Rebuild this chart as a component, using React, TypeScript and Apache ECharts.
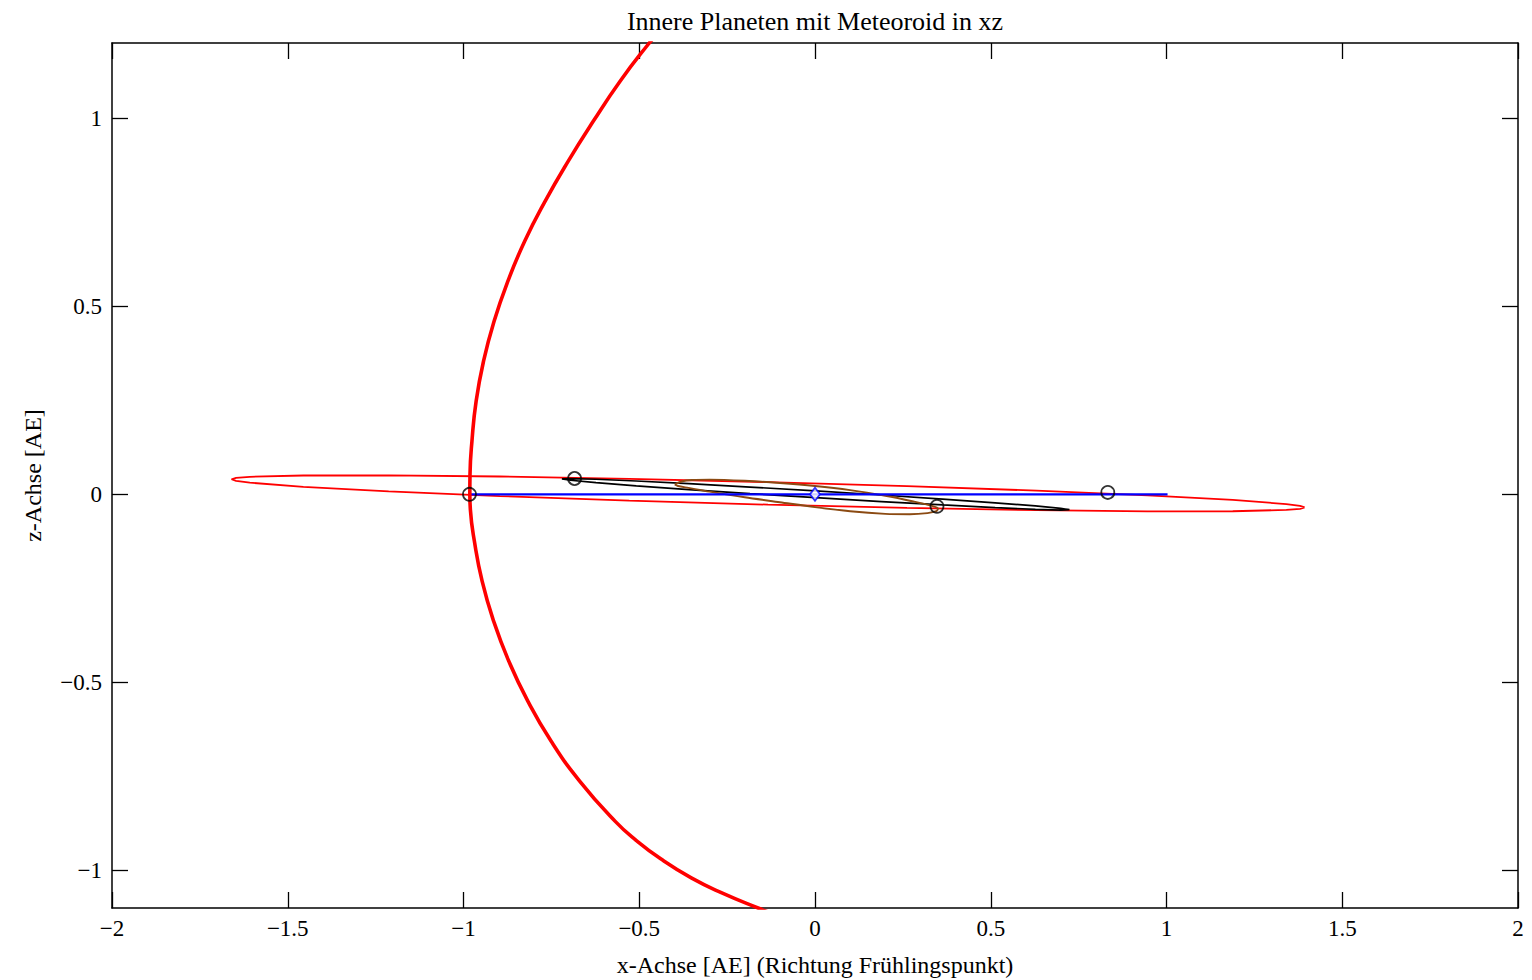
import { useEffect, useRef } from "react";
import * as echarts from "echarts";

// Axis ticks (AE)
const xTicks = [-2, -1.5, -1, -0.5, 0, 0.5, 1, 1.5, 2];
const zTicks = [-1, -0.5, 0, 0.5, 1];

// Meteoroid trajectory projected onto the xz plane [x, z]
const meteoroidPath: number[][] = [
  [-0.452, 1.22], [-0.475, 1.196], [-0.554, 1.099], [-0.63, 0.993], [-0.702, 0.886],
  [-0.768, 0.779], [-0.826, 0.673], [-0.874, 0.566], [-0.913, 0.46], [-0.943, 0.354],
  [-0.964, 0.248], [-0.976, 0.141], [-0.9815, 0.053], [-0.982, 0.0], [-0.9805, -0.04],
  [-0.969, -0.125], [-0.947, -0.231], [-0.914, -0.338], [-0.871, -0.444], [-0.817, -0.55],
  [-0.751, -0.656], [-0.669, -0.763], [-0.569, -0.869], [-0.509, -0.92], [-0.438, -0.97],
  [-0.352, -1.02], [-0.265, -1.06], [-0.162, -1.1], [-0.106, -1.12],
];

// Mars orbit
const marsOrbit: number[][] = [
  [1.393, -0.035], [1.38, -0.0308], [1.341, -0.0259], [1.1885, -0.015], [0.946, -0.0028],
  [0.63, 0.0097], [0.2616, 0.0218], [-0.1335, 0.0325], [-0.5286, 0.0412], [-0.8968, 0.0473],
  [-1.2129, 0.0502], [-1.4555, 0.05], [-1.608, 0.0465], [-1.647, 0.0436], [-1.66, 0.04],
  [-1.647, 0.0358], [-1.608, 0.0309], [-1.4555, 0.02], [-1.2129, 0.0078], [-0.8968, -0.0047],
  [-0.5286, -0.0168], [-0.1335, -0.0275], [0.2616, -0.0362], [0.63, -0.0423], [0.946, -0.0452],
  [1.1885, -0.045], [1.341, -0.0415], [1.38, -0.0386], [1.393, -0.035],
];

// Venus orbit
const venusOrbit: number[][] = [
  [0.724, -0.041], [0.699, -0.0373], [0.627, -0.031], [0.5125, -0.0226], [0.363, -0.0127],
  [0.189, -0.0019], [0.002, 0.009], [-0.1849, 0.0193], [-0.359, 0.0283], [-0.5085, 0.0354],
  [-0.623, 0.04], [-0.6954, 0.0419], [-0.72, 0.041], [-0.6954, 0.0373], [-0.623, 0.031],
  [-0.5085, 0.0226], [-0.359, 0.0127], [-0.1849, 0.0019], [0.002, -0.009], [0.189, -0.0193],
  [0.363, -0.0283], [0.5125, -0.0354], [0.627, -0.04], [0.699, -0.0419], [0.724, -0.041],
];

// Mercury orbit
const mercuryOrbit: number[][] = [
  [-0.399, 0.026], [-0.38, 0.034], [-0.35, 0.038], [-0.3, 0.039], [-0.2, 0.036],
  [-0.1, 0.03], [0.0, 0.022], [0.1, 0.011], [0.2, -0.004], [0.28, -0.019],
  [0.33, -0.03], [0.35, -0.038], [0.345, -0.045], [0.32, -0.05], [0.27, -0.053],
  [0.2, -0.052], [0.1, -0.045], [0.0, -0.034], [-0.1, -0.021], [-0.2, -0.008],
  [-0.3, 0.007], [-0.36, 0.017], [-0.39, 0.022], [-0.399, 0.026],
];

// Earth orbit (lies in the ecliptic, seen edge-on)
const earthOrbit: number[][] = [[-0.985, 0], [1.003, 0]];

// Current planet positions: Earth, Venus, Mercury, Mars
const planetPositions: number[][] = [[-0.983, 0], [-0.684, 0.042], [0.347, -0.032], [0.833, 0.005]];

// Sun
const sunPosition: number[][] = [[0, 0]];

const FONT = "'Liberation Serif', 'Times New Roman', serif";

const fmt = (v: number) => (v < 0 ? "\u2212" + String(-v) : String(v));

export default function App() {
  const ref = useRef<HTMLDivElement>(null);

  useEffect(() => {
    if (!ref.current) return;
    const chart = echarts.init(ref.current, undefined, { renderer: "svg" });

    const axisLine = { show: true, onZero: false, lineStyle: { color: "#000", width: 1.5 } };
    const tick = { inside: true, length: 16, lineStyle: { color: "#000", width: 1.3 } };
    const label = { color: "#000", fontFamily: FONT, fontSize: 23, formatter: fmt };

    chart.setOption({
      animation: false,
      backgroundColor: "#fff",
      grid: { left: 112, top: 43, width: 1406, height: 865, show: false, outerBoundsMode: "none" },
      graphic: [
        {
          type: "text",
          x: 815,
          y: 21,
          style: {
            text: "Innere Planeten mit Meteoroid in xz",
            font: `26px ${FONT}`,
            fill: "#000",
            align: "center",
            verticalAlign: "middle",
          },
        },
      ],
      xAxis: [
        {
          type: "value",
          min: xTicks[0],
          max: xTicks[xTicks.length - 1],
          interval: 0.5,
          position: "bottom",
          axisLine,
          axisTick: tick,
          axisLabel: { ...label, margin: 9 },
          splitLine: { show: false },
          name: "x-Achse [AE] (Richtung Frühlingspunkt)",
          nameLocation: "middle",
          nameGap: 45,
          nameTextStyle: { color: "#000", fontFamily: FONT, fontSize: 24 },
        },
        {
          type: "value",
          min: xTicks[0],
          max: xTicks[xTicks.length - 1],
          interval: 0.5,
          position: "top",
          axisLine,
          axisTick: tick,
          axisLabel: { show: false },
          splitLine: { show: false },
        },
      ],
      yAxis: [
        {
          type: "value",
          min: -1.1,
          max: 1.2,
          position: "left",
          axisLine,
          axisTick: { ...tick, customValues: zTicks },
          axisLabel: { ...label, margin: 10, customValues: zTicks },
          splitLine: { show: false },
          name: "z-Achse [AE]",
          nameLocation: "middle",
          nameGap: 67,
          nameTextStyle: { color: "#000", fontFamily: FONT, fontSize: 24 },
        },
        {
          type: "value",
          min: -1.1,
          max: 1.2,
          position: "right",
          axisLine,
          axisTick: { ...tick, customValues: zTicks },
          axisLabel: { show: false, customValues: zTicks },
          splitLine: { show: false },
        },
      ],
      series: [
        {
          name: "Mars",
          type: "line",
          data: marsOrbit,
          showSymbol: false,
          lineStyle: { color: "#ff0000", width: 1.8 },
          z: 2,
        },
        {
          name: "Venus",
          type: "line",
          data: venusOrbit,
          showSymbol: false,
          lineStyle: { color: "#000000", width: 1.7 },
          z: 3,
        },
        {
          name: "Merkur",
          type: "line",
          data: mercuryOrbit,
          showSymbol: false,
          smooth: 0.3,
          lineStyle: { color: "#8b4a12", width: 1.9 },
          z: 3,
        },
        {
          name: "Erde",
          type: "line",
          data: earthOrbit,
          showSymbol: false,
          lineStyle: { color: "#0000ff", width: 2.2 },
          z: 4,
        },
        {
          name: "Meteoroid",
          type: "line",
          data: meteoroidPath,
          showSymbol: false,
          smooth: 0.5,
          clip: true,
          lineStyle: { color: "#ff0000", width: 3.6 },
          z: 5,
        },
        {
          name: "Planeten",
          type: "scatter",
          data: planetPositions,
          symbol: "circle",
          symbolSize: 13,
          itemStyle: { color: "rgba(255,255,255,0)", borderColor: "#000", borderWidth: 1.8 },
          z: 6,
        },
        {
          name: "Sonne",
          type: "scatter",
          data: sunPosition,
          symbol: "diamond",
          symbolSize: [10, 13],
          itemStyle: { color: "#fff", borderColor: "#0000ff", borderWidth: 1.8 },
          z: 6,
        },
      ],
    });

    return () => chart.dispose();
  }, []);

  return (
    <div
      ref={ref}
      style={{ position: "absolute", left: 0, top: 0, width: 1532, height: 980, background: "#fff" }}
    />
  );
}
